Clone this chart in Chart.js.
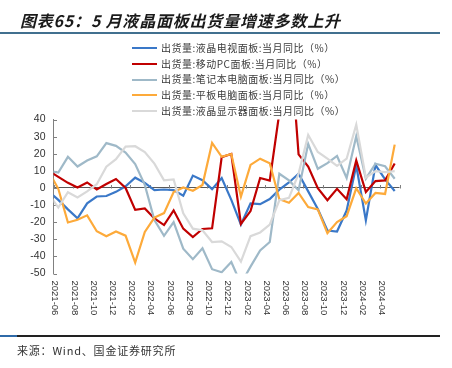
<!DOCTYPE html>
<html lang="zh">
<head>
<meta charset="UTF-8">
<title>图表65</title>
<script src="https://cdn.jsdelivr.net/npm/chart.js@4"></script>
<style>
  html, body { margin: 0; padding: 0; background: #fff; }
  body { width: 452px; height: 368px; position: relative; overflow: hidden; font-family: 'Noto Sans CJK SC', 'Noto Sans', sans-serif; }
  #chart { position: absolute; left: 0; top: 0; }
  .title { position: absolute; left: 20px; top: 10px; font-size: 16px; font-weight: bold; font-style: italic; letter-spacing: 0.8px; color: #1a1a1a; line-height: 20px; white-space: nowrap; }
  .rule-top { position: absolute; left: 0; top: 32px; width: 440px; height: 2px; background: #41708f; }
  .legend { position: absolute; left: 132px; top: 40px; }
  .legend div { height: 15.7px; line-height: 15.7px; font-size: 10px; letter-spacing: 0.5px; color: #3a3a3a; white-space: nowrap; }
  .legend span { display: inline-block; width: 25px; height: 2px; vertical-align: middle; margin-right: 4px; position: relative; top: -1px; }
  .rule-bottom { position: absolute; left: 0; top: 335px; width: 440px; height: 1.5px; background: #222; }
  .rule-bottom i { position: absolute; left: 0; top: 0; width: 17px; height: 1.5px; background: #2f6aa8; }
  .source { position: absolute; left: 17px; top: 342px; font-size: 11px; letter-spacing: 0.8px; color: #333; white-space: nowrap; }
</style>
</head>
<body>
<canvas id="chart" width="452" height="368"></canvas>
<div class="title">图表65：5 月液晶面板出货量增速多数上升</div>
<div class="rule-top"></div>
<div class="legend" id="legend"></div>
<div class="rule-bottom"><i></i></div>
<div class="source">来源：Wind、国金证券研究所</div>
<script>
// 月份（第一个月只露出被裁剪的一小段）
const months = ['2021-05',
  '2021-06','2021-07','2021-08','2021-09','2021-10','2021-11','2021-12',
  '2022-01','2022-02','2022-03','2022-04','2022-05','2022-06','2022-07','2022-08','2022-09','2022-10','2022-11','2022-12',
  '2023-01','2023-02','2023-03','2023-04','2023-05','2023-06','2023-07','2023-08','2023-09','2023-10','2023-11','2023-12',
  '2024-01','2024-02','2024-03','2024-04','2024-05'];

const names = [
  '出货量:液晶电视面板:当月同比（%）',
  '出货量:移动PC面板:当月同比（%）',
  '出货量:笔记本电脑面板:当月同比（%）',
  '出货量:平板电脑面板:当月同比（%）',
  '出货量:液晶显示器面板:当月同比（%）'
];
const colors = ['#3a78c8', '#c00000', '#9fb9c8', '#fdaa3a', '#d9d9d9'];

const tvPanel = [-2, -7, -12.5, -17.7, -9, -5, -4.7, -2.3, 1, 6, 3, -1.3, -0.9, -1.3, -4.6, 7.2, 4.5, -0.7, 5.8,
  -7, -21.4, -9, -9.5, -6.5, -1, 3.2, 8.3, -2, -12.3, -24.9, -25.5, -13.2, 13.1, -19, 13.4, 5, -1.8];
const mobilePc = [10, 6.5, 3, 0.3, 3.2, -0.9, 2.3, 5.2, 0, -12.8, -12, -17.8, -21.7, -13.1, -23.8, -28.7, -24, -23.6, 18,
  19.8, -21, -13.5, 5.8, 4.3, 44, 95, 19.6, 12.5, -0.2, -7.2, -0.5, -6.6, 16.1, -2.4, 4, 4.4, 14.3];
const notebook = [10, 9, 18.2, 12.5, 16, 18.5, 26.2, 24.6, 20.7, 14, 1.8, -18.8, -28, -20, -35.5, -41.6, -35.3, -47.5, -49.3,
  -43.3, -56, -46, -36.5, -31.6, 8.3, 4.4, -1.4, 25.8, 11.2, 14.5, 18.7, 5.8, 30.2, 5.4, 14.2, 12.7, 5.4];
const tablet = [9.7, -0.5, -20.2, -18.6, -16, -25.3, -28.2, -25.5, -27.9, -43.6, -25.7, -17.3, -14.7, -2.4, 0.3, -1.6, 1.7, 26.3, 18.2,
  19.8, -5.1, 13.5, 17.1, 14.4, -6.6, -8.7, -2.9, -11.2, -12.5, -26.4, -19.9, -16.5, -0.2, -9.1, -2.9, -3.5, 25.3];
const monitor = [-3.5, -11.5, -2.5, -5.5, -2, 2.2, 12.4, 16.8, 24.2, 24.4, 21, 14.2, 4.5, 5, -14.8, -23.8, -24.8, -31.6, -31.2,
  -34.5, -43, -28.2, -26, -21.4, -7.2, -5.8, 8.4, 31, 21, 17.1, 12.9, 17.1, 37, 6, 9.8, 9.3, 9.8];

const yTicks = [40, 30, 20, 10, 0, -10, -20, -30, -40, -50];

const seriesValues = [tvPanel, mobilePc, notebook, tablet, monitor];

// 图例
const legendEl = document.getElementById('legend');
names.forEach((n, i) => {
  const row = document.createElement('div');
  row.innerHTML = '<span style="background:' + colors[i] + '"></span>' + n;
  legendEl.appendChild(row);
});

// 坐标轴刻度与竖排日期标签
const axisDecor = {
  id: 'axisDecor',
  beforeDatasetsDraw(chart) {
    const { ctx, chartArea, scales: { x, y } } = chart;
    ctx.save();
    ctx.strokeStyle = '#808080';
    ctx.lineWidth = 1;
    ctx.beginPath();
    yTicks.forEach(v => {
      const py = Math.round(y.getPixelForValue(v)) + 0.5;
      ctx.moveTo(chartArea.left, py);
      ctx.lineTo(chartArea.left + 3.5, py);
    });
    const zy = Math.round(y.getPixelForValue(0)) + 0.5;
    for (let k = 0; k <= 36; k += 2) {
      const px = Math.round(x.getPixelForValue(k)) + 0.5;
      ctx.moveTo(px, zy);
      ctx.lineTo(px, zy - 3.5);
    }
    ctx.stroke();

    ctx.fillStyle = '#333';
    ctx.font = '9.5px "Liberation Sans", Arial, sans-serif';
    ctx.textAlign = 'left';
    ctx.textBaseline = 'middle';
    for (let k = 0; k <= 34; k += 2) {
      const px = x.getPixelForValue(k) + 1.5;
      ctx.save();
      ctx.translate(px, chartArea.bottom + 7);
      ctx.rotate(Math.PI / 2);
      ctx.fillText(months[k + 1], 0, 0);
      ctx.restore();
    }
    ctx.restore();
  }
};

new Chart(document.getElementById('chart').getContext('2d'), {
  type: 'line',
  data: {
    datasets: seriesValues.map((vals, i) => ({
      label: names[i],
      data: vals.map((v, j) => ({ x: j - 0.5, y: v })),
      borderColor: colors[i],
      backgroundColor: colors[i],
      borderWidth: 2.2,
      pointRadius: 0,
      tension: 0,
      clip: 0,
      order: -i
    }))
  },
  options: {
    responsive: false,
    animation: false,
    layout: { padding: { left: 0, right: 52.5, top: 119.5, bottom: 0 } },
    plugins: { legend: { display: false }, tooltip: { enabled: false } },
    scales: {
      x: {
        type: 'linear', min: 0, max: 36,
        grid: { display: false },
        border: { display: false },
        ticks: { display: false },
        afterFit: s => { s.height = 94.5; }
      },
      y: {
        min: -50, max: 40,
        afterBuildTicks: s => { s.ticks = yTicks.map(v => ({ value: v })); },
        ticks: { padding: 8, color: '#333', font: { family: '"Liberation Sans", Arial, sans-serif', size: 10.5 } },
        grid: {
          drawTicks: false,
          color: c => (c.tick && c.tick.value === 0) ? '#595959' : 'rgba(0,0,0,0)',
          lineWidth: 1
        },
        border: { display: true, color: '#808080', width: 1 },
        afterFit: s => { s.width = 53.5; }
      }
    }
  },
  plugins: [axisDecor]
});
</script>
</body>
</html>
